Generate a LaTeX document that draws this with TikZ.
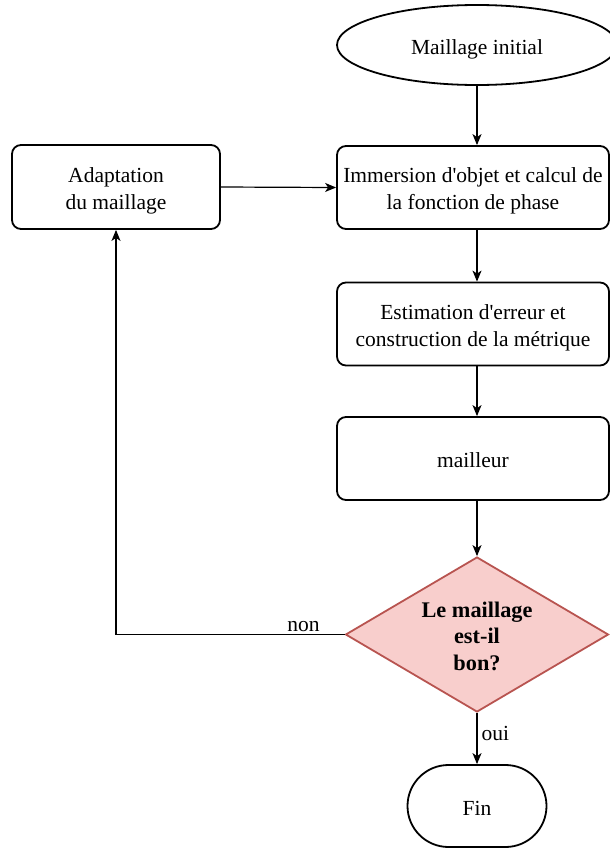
\documentclass[tikz,border=0pt]{standalone}
\usepackage{fontspec}
\setmainfont{Liberation Serif}
\usepackage{xcolor}
\usepackage{tikz}
\usetikzlibrary{shapes.geometric,arrows.meta,positioning}
\definecolor{testfill}{HTML}{F8CECC}
\definecolor{testdraw}{HTML}{B85450}

\begin{document}
\begin{tikzpicture}[x=1pt,y=-1pt,
    every node/.style={font=\fontsize{21.5}{27}\selectfont,align=center,inner sep=2pt},
    textlines/.style={text height=#1,text depth=0pt},
    procbox/.style={draw,line width=1.8pt,rounded corners=9pt,minimum width=272pt,minimum height=83pt},
    startbox/.style={draw,line width=1.8pt,ellipse,minimum width=280pt,minimum height=80pt,textlines=19pt},
    endbox/.style={draw,line width=1.8pt,rounded corners=41pt,minimum width=139pt,minimum height=82pt,textlines=18pt},
    testbox/.style={draw=testdraw,fill=testfill,line width=1.8pt,diamond,aspect=1.7,minimum width=263pt,minimum height=155pt,inner sep=0pt,textlines=71pt,font=\fontsize{22.3}{26.5}\selectfont\bfseries},
    flowarrow/.style={line width=1.2pt,-{Stealth[length=11pt,width=9pt,inset=3pt]}}]
    \useasboundingbox (0,0) rectangle (610,849);
    \node[startbox] (start) at (477,45) {Maillage initial};
    \foreach \nm/\y/\th/\lab in {%
      immersion/187.5/44pt/{Immersion d\textquotesingle objet et calcul de\\la fonction de phase},
      estimation/324/45pt/{Estimation d\textquotesingle erreur et\\construction de la métrique},
      mailleur/458.5/17pt/{mailleur}%
    } {
      \node[procbox,textlines=\th] (\nm) at (473,\y) {\lab};
    }
    \node[procbox,textlines=45pt,minimum width=208pt,minimum height=84pt] (adapt) at (116,187) {Adaptation\\du maillage};
    \node[testbox] (test) at (477,634.5) {Le maillage\\est-il\\bon?};
    \node[endbox] (fin) at (477,806) {Fin};
    % connectors
    \draw[flowarrow] (start.south) -- ([xshift=4pt]immersion.north);
    \draw[flowarrow] ([xshift=4pt]immersion.south) -- ([xshift=4pt]estimation.north);
    \draw[flowarrow] ([xshift=4pt]estimation.south) -- ([xshift=4pt]mailleur.north);
    \draw[flowarrow] ([xshift=4pt]mailleur.south) -- (test.north);
    \draw[flowarrow] (test.south) -- node[pos=0.4,right,inner sep=4pt] {oui} (fin.north);
    \draw[flowarrow] (test.west) -| node[pos=0.09,above,inner sep=2.5pt] {non} (adapt.south);
    \draw[flowarrow] (adapt.east) -- (immersion.west);
  \end{tikzpicture}
\end{document}
